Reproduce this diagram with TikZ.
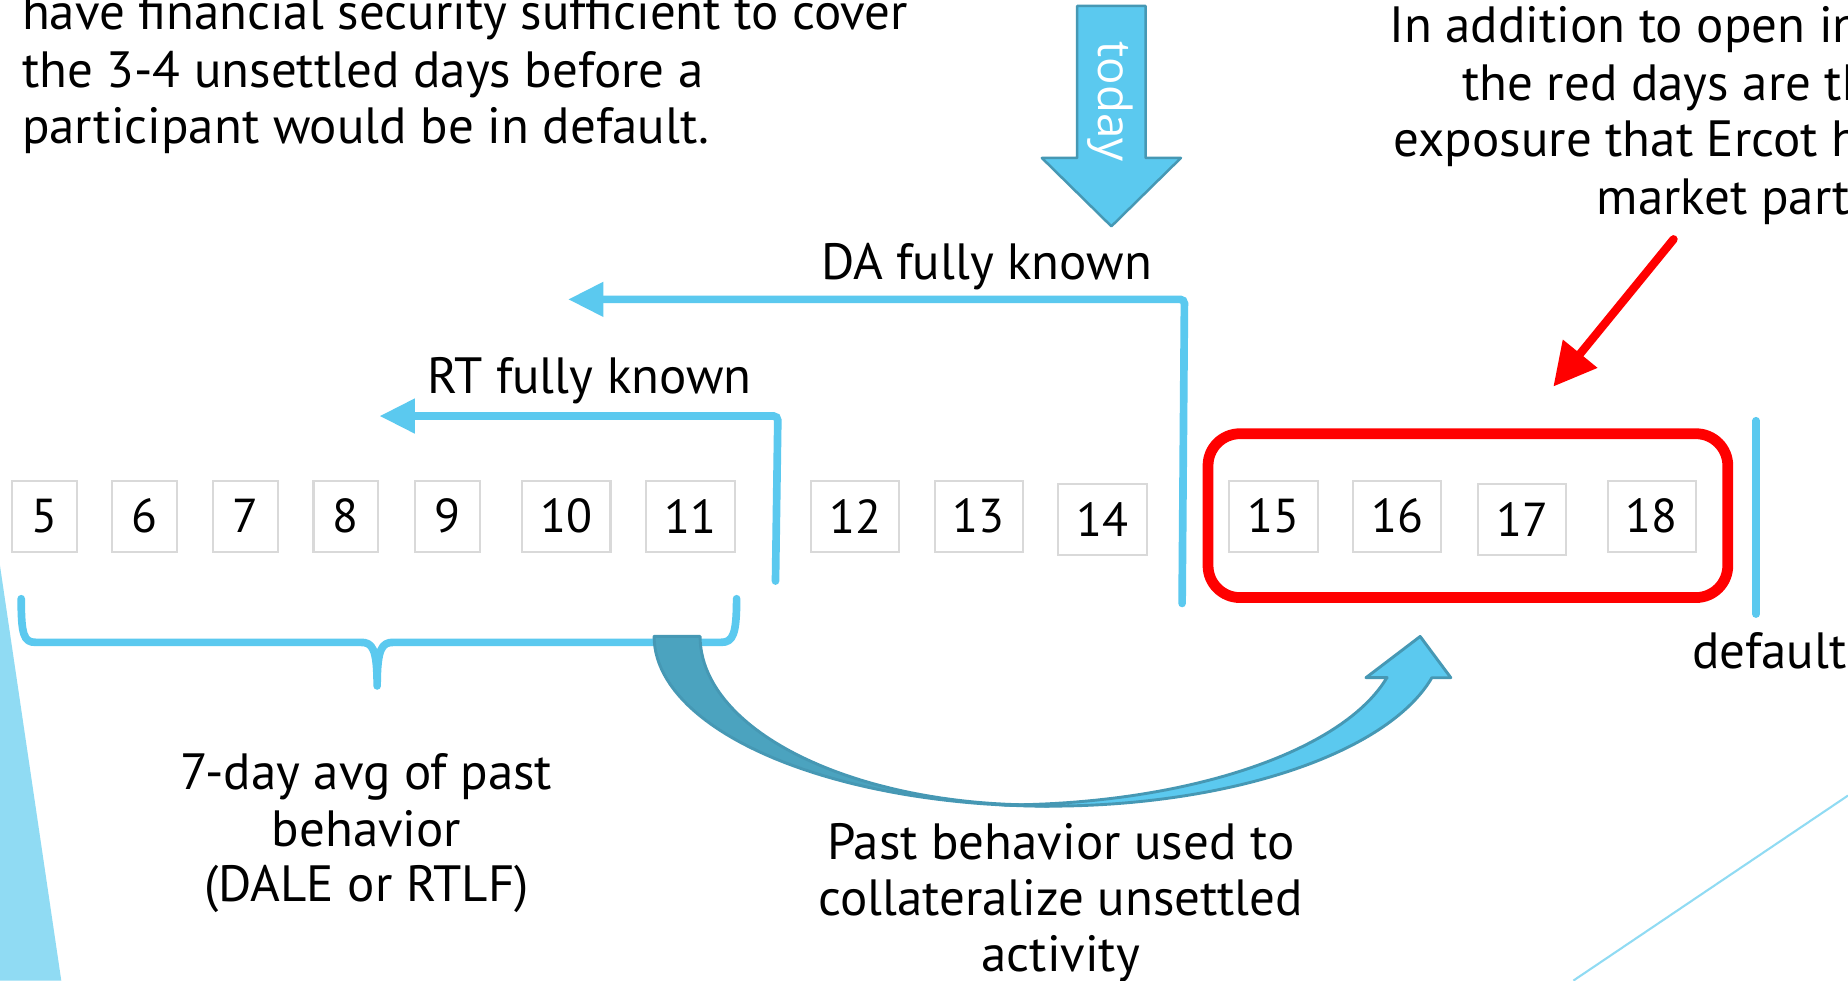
\documentclass[tikz,border=0pt]{standalone}
\usepackage{fontspec}
\setmainfont{PT Sans}
\newfontfamily\todayfont{Open Sans}
\usetikzlibrary{arrows.meta}
\definecolor{lineblue}{HTML}{5BC9EF}
\definecolor{darkband}{HTML}{4BA3BF}
\definecolor{bandedge}{HTML}{4698B4}
\definecolor{paleblue}{HTML}{90DBF3}
\definecolor{boxgray}{HTML}{D9D9D9}
\definecolor{redline}{HTML}{FF0000}
\begin{document}
\begin{tikzpicture}[x=0.01cm,y=-0.01cm,
  txt/.style={inner sep=0pt, font=\fontsize{12.3pt}{15pt}\selectfont, text=black},
  daybox/.style={draw=boxgray, line width=0.5pt, fill=white, minimum height=0.6cm, inner sep=0pt, font=\fontsize{11.5pt}{12pt}\selectfont},
  narrowbox/.style={daybox, minimum width=0.55cm},
  widebox/.style={daybox, minimum width=0.75cm},
  bluelink/.style={draw=lineblue, line width=1.85pt, line cap=round, rounded corners=1pt},
  bluetip/.style={-{Triangle[length=0.3cm,width=0.28cm]}},
]
\useasboundingbox (0,0) rectangle (1568,832);
\clip (0,0) rectangle (1568,832);
\fill[white] (0,0) rectangle (1568,832);

% background decorations
\fill[paleblue] (0,480) -- (52,832) -- (0,832) -- cycle;
\draw[paleblue, line width=0.5pt] (1335,832) -- (1568,675);

% texts top
\node[txt, anchor=base west] (tl1) at (18,25) {have financial security sufficient to cover};
\node[txt, anchor=base west] (tl2) at (18,74) {the 3-4 unsettled days before a};
\node[txt, anchor=base west] (tl3) at (18,122) {participant would be in default.};

\node[txt, anchor=base west] (tr1) at (1178,36) {In addition to open in};
\node[txt, anchor=base west] (tr2) at (1240,85) {the red days are th};
\node[txt, anchor=base west] (tr3) at (1182,133) {exposure that Ercot h};
\node[txt, anchor=base west] (tr4) at (1354,182) {market part};

% today arrow
\draw[fill=lineblue, draw=bandedge, line width=0.6pt, line join=round]
  (914,5) -- (972,5) -- (972,134) -- (1002,134) -- (943,192) -- (884,134) -- (914,134) -- cycle;
\node[rotate=-90, text=white, inner sep=0pt, font=\todayfont\fontsize{11pt}{12pt}\selectfont] (today) at (942,86) {today};

% known lines
\node[txt, anchor=base] (dalabel) at (837,237) {DA fully known};
\node[txt, anchor=base] (rtlabel) at (500,334) {RT fully known};
\coordinate (daBot) at (1003,512);
\coordinate (daTop) at (1005,254);
\coordinate (daTip) at (482,254);
\draw[bluelink, bluetip] (daBot) -- (daTop) -- (daTip);
\coordinate (rtBot) at (658,493);
\coordinate (rtTop) at (660,353);
\coordinate (rtTip) at (322,353);
\draw[bluelink, bluetip] (rtBot) -- (rtTop) -- (rtTip);

% default line
\coordinate (dfTop) at (1490,357);
\coordinate (dfBot) at (1490,521);
\draw[bluelink] (dfTop) -- (dfBot);
\node[txt, anchor=base west] (default) at (1435,567) {default};

% day boxes
\node[narrowbox] (d5) at (37.5,438) {5};
\node[narrowbox] (d6) at (122.5,438) {6};
\node[narrowbox] (d7) at (208.5,438) {7};
\node[narrowbox] (d8) at (293.5,438) {8};
\node[narrowbox] (d9) at (379.5,438) {9};
\node[widebox] (d10) at (480.5,438) {10};
\node[widebox] (d11) at (586,438) {11};
\node[widebox] (d12) at (725.5,438) {12};
\node[widebox] (d13) at (830.5,438) {13};
\node[widebox] (d14) at (935.5,441) {14};
\node[widebox] (d15) at (1080.5,438) {15};
\node[widebox] (d16) at (1185.5,438) {16};
\node[widebox] (d17) at (1291.5,441) {17};
\node[widebox] (d18) at (1401.5,438) {18};

% red frame and arrow
\draw[redline, line width=2.6pt, rounded corners=0.27cm] (1025,368) rectangle (1466,507);
\coordinate (redStart) at (1420,203);
\coordinate (redTip) at (1318,328);
\draw[redline, line width=2pt, line cap=round, -{Triangle[length=0.36cm,width=0.36cm]}] (redStart) -- (redTip);

% brace
\coordinate (brL) at (18,508);
\coordinate (brM) at (320,582);
\coordinate (brR) at (625,508);
\draw[draw=lineblue, line width=1.85pt, line cap=round, line join=round]
  (brL) .. controls (18,538) and (20,545) .. (30,545) -- (306,545)
  .. controls (316,545) and (320,550) .. (brM)
  .. controls (320,550) and (324,545) .. (334,545) -- (612,545)
  .. controls (622,545) and (625,538) .. (brR);

% curved arrow
\path[fill=darkband, draw=bandedge, line width=0.7pt, line join=round]
  plot[domain=0:90, samples=50] ({890-335*cos(\x)},{540+144*sin(\x)})
  -- plot[domain=0:90, samples=50] ({880-286*sin(\x)},{540+143*cos(\x)}) -- cycle;
\path[fill=lineblue, draw=bandedge, line width=0.7pt, line join=round]
  plot[domain=0:75.9, samples=50] ({890+335*sin(\x)},{540+144*cos(\x)})
  -- (1231,575) -- (1205,540) -- (1159,575) -- (1177,575)
  -- plot[domain=14.1:90, samples=50] ({850+337*cos(\x)},{540+143*sin(\x)}) -- cycle;

% bottom texts
\node[txt, anchor=base] (av1) at (311,670) {7-day avg of past};
\node[txt, anchor=base] (av2) at (311,718) {behavior};
\node[txt, anchor=base] (av3) at (311,765) {(DALE or RTLF)};
\node[txt, anchor=base] (pb1) at (900,729) {Past behavior used to};
\node[txt, anchor=base] (pb2) at (900,777) {collateralize unsettled};
\node[txt, anchor=base] (pb3) at (900,824) {activity};
\end{tikzpicture}
\end{document}
